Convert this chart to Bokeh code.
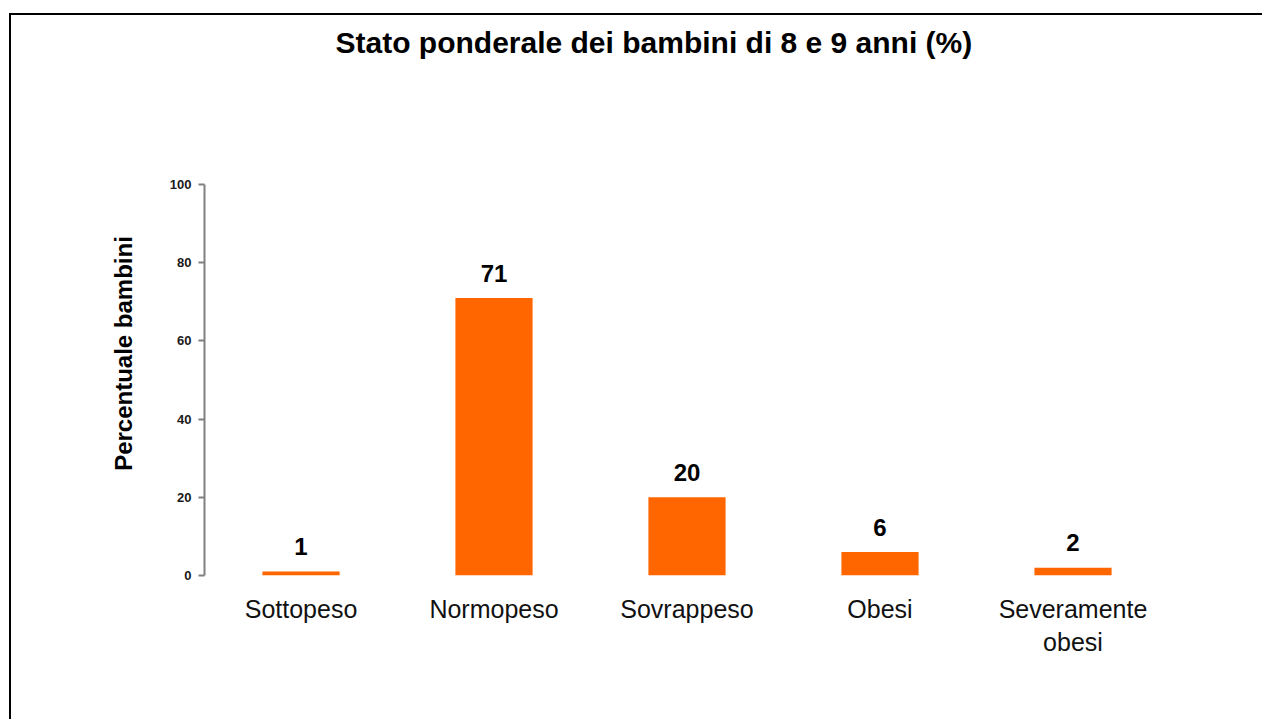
from bokeh.plotting import figure
from bokeh.models import ColumnDataSource, FixedTicker, Title
from bokeh.core.properties import value
from bokeh.embed import file_html
from bokeh.resources import INLINE

categories = ["Sottopeso", "Normopeso", "Sovrappeso", "Obesi", "Severamente\nobesi"]
values = [1, 71, 20, 6, 2]
labels = ["1", "71", "20", "6", "2"]
y_ticks = [0, 20, 40, 60, 80, 100]
title_text = "Stato ponderale dei bambini di 8 e 9 anni  (%)"

FONT = "Liberation Sans"
ORANGE = "#FF6600"

src = ColumnDataSource(dict(cat=categories, val=values, lab=labels))

p = figure(
    x_range=categories, y_range=(0, 113.6),
    frame_width=965, frame_height=444,
    min_border_left=193, min_border_right=93, min_border_top=116, min_border_bottom=144,
    output_backend="svg", toolbar_location=None,
    background_fill_color="white", border_fill_color="white",
)
p.styles = {"border-left": "2px solid black", "border-top": "2px solid black",
            "margin-top": "13px", "margin-left": "9px"}

p.outline_line_color = None
p.xgrid.grid_line_color = None
p.ygrid.grid_line_color = None

p.vbar(x="cat", top="val", bottom=0, width=0.4, source=src,
       fill_color=ORANGE, line_color=None)

p.text(x="cat", y="val", text="lab", source=src,
       text_font=value(FONT), text_font_style="bold", text_font_size="24px",
       text_align="center", text_baseline="alphabetic", y_offset=-25,
       text_color="black")

# invisible spacer between frame and title (closest to the frame)
spacer = Title(text=" ", text_font_size="10px", standoff=55, text_color="white")
p.add_layout(spacer, "above")

t = Title(text=title_text, align="left",
          text_font=FONT, text_font_size="30px", text_font_style="bold",
          text_color="black", offset=131, standoff=10)
p.add_layout(t, "above")

ya = p.yaxis[0]
ya.ticker = FixedTicker(ticks=y_ticks)
ya.bounds = (0, 100)
ya.axis_line_color = "#808080"
ya.axis_line_width = 2
ya.major_tick_line_color = "#808080"
ya.major_tick_line_width = 2
ya.major_tick_out = 6
ya.major_tick_in = 0
ya.minor_tick_line_color = None
ya.major_label_standoff = 7
ya.major_label_text_font = FONT
ya.major_label_text_font_style = "bold"
ya.major_label_text_font_size = "13px"
ya.major_label_text_color = "#1a1a1a"
ya.axis_label = "Percentuale bambini"
ya.axis_label_text_font = FONT
ya.axis_label_text_font_style = "bold"
ya.axis_label_text_font_size = "24px"
ya.axis_label_text_color = "black"
ya.axis_label_standoff = 30

xa = p.xaxis[0]
xa.axis_line_color = None
xa.major_tick_line_color = None
xa.minor_tick_line_color = None
xa.major_label_standoff = 13
xa.major_label_text_font = FONT
xa.major_label_text_font_size = "25px"
xa.major_label_text_color = "#111111"

open("out.html", "w").write(file_html(p, INLINE))
